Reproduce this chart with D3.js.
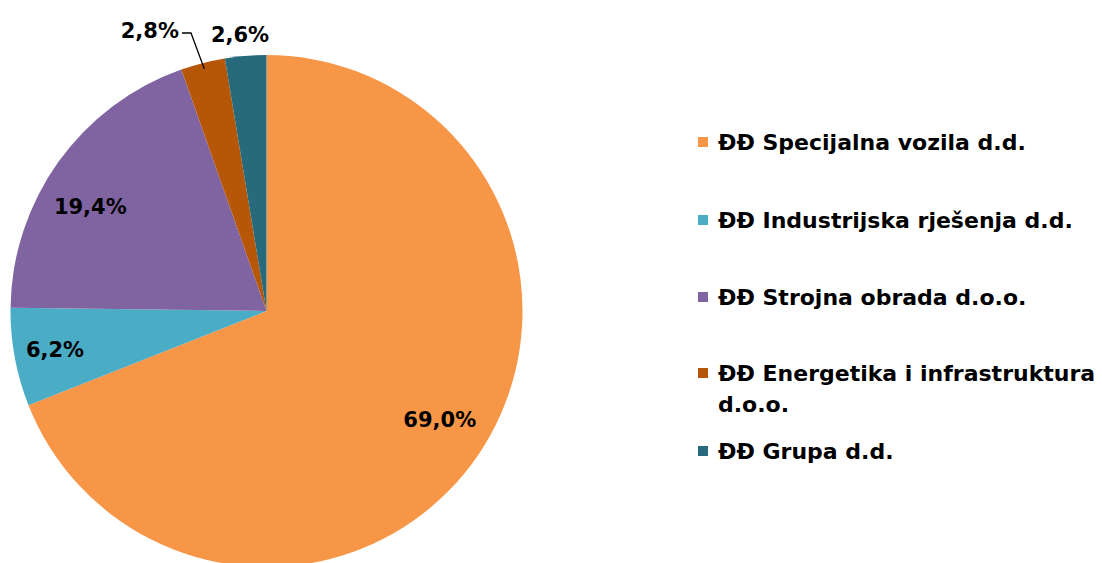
<!DOCTYPE html>
<html><head><meta charset="utf-8">
<script src="https://cdn.jsdelivr.net/npm/d3@7"></script>
<style>body{margin:0;background:#fff;} svg{display:block;}</style>
</head><body>
<svg id="c" width="1102" height="563"></svg>
<script>
const categories = ["ĐĐ Specijalna vozila d.d.", "ĐĐ Industrijska rješenja d.d.", "ĐĐ Strojna obrada d.o.o.", "ĐĐ Energetika i infrastruktura d.o.o.", "ĐĐ Grupa d.d."];
const values = [69.0, 6.2, 19.4, 2.8, 2.6];
const valueLabels = ["69,0%", "6,2%", "19,4%", "2,8%", "2,6%"];
const colors = ["#F79646", "#4BACC6", "#8064A2", "#B65708", "#276A7C"];
const legendLines = [["ĐĐ Specijalna vozila d.d."], ["ĐĐ Industrijska rješenja d.d."], ["ĐĐ Strojna obrada d.o.o."], ["ĐĐ Energetika i infrastruktura", "d.o.o."], ["ĐĐ Grupa d.d."]];

const svg = d3.select("#c");
const cx = 266.5, cy = 311, R = 256;
const font = "'DejaVu Sans', sans-serif";
const fsL = 21, fsG = 22;

const pie = d3.pie().sort(null).value(d => d)(values);
const arc = d3.arc().innerRadius(0).outerRadius(R);
const g = svg.append("g").attr("transform", `translate(${cx},${cy})`);
g.selectAll("path").data(pie).join("path")
  .attr("d", arc).attr("fill", (d, i) => colors[i]);

// label radius fraction and angular offset (degrees)
const labelR = [0.80, 0.84, 0.80, null, null];
const labelDA = [-2, 0, -5, 0, 0];
pie.forEach((d, i) => {
  if (labelR[i] == null) return;
  const a = (d.startAngle + d.endAngle) / 2 + labelDA[i] * Math.PI / 180;
  const r = R * labelR[i];
  g.append("text").attr("x", Math.sin(a) * r).attr("y", -Math.cos(a) * r)
    .attr("text-anchor", "middle").attr("dominant-baseline", "central")
    .attr("font-family", font).attr("font-weight", "bold").attr("font-size", fsL)
    .attr("fill", "#000").text(valueLabels[i]);
});
{
  const d = pie[3];
  const a = (d.startAngle + d.endAngle) / 2;
  const px = Math.sin(a) * (R - 6), py = -Math.cos(a) * (R - 6);
  g.append("text").attr("x", 179 - cx).attr("y", 31 - cy)
    .attr("text-anchor", "end").attr("dominant-baseline", "central")
    .attr("font-family", font).attr("font-weight", "bold").attr("font-size", fsL)
    .text(valueLabels[3]);
  g.append("path").attr("d", `M${182 - cx},${33 - cy}H${191 - cx}L${px},${py}`)
    .attr("fill", "none").attr("stroke", "#000").attr("stroke-width", 1.3);
  g.append("text").attr("x", 240 - cx).attr("y", 35 - cy)
    .attr("text-anchor", "middle").attr("dominant-baseline", "central")
    .attr("font-family", font).attr("font-weight", "bold").attr("font-size", fsL)
    .text(valueLabels[4]);
}

const rowY = [142, 220, 297, 373, 451];
const lg = svg.append("g");
legendLines.forEach((lines, i) => {
  lg.append("rect").attr("x", 698).attr("y", rowY[i] - 5).attr("width", 10).attr("height", 10).attr("fill", colors[i]);
  lines.forEach((t, j) => {
    lg.append("text").attr("x", 718).attr("y", rowY[i] + j * 31)
      .attr("dominant-baseline", "central")
      .attr("font-family", font).attr("font-weight", "bold").attr("font-size", fsG)
      .attr("fill", "#000").text(t);
  });
});
</script>
</body></html>
